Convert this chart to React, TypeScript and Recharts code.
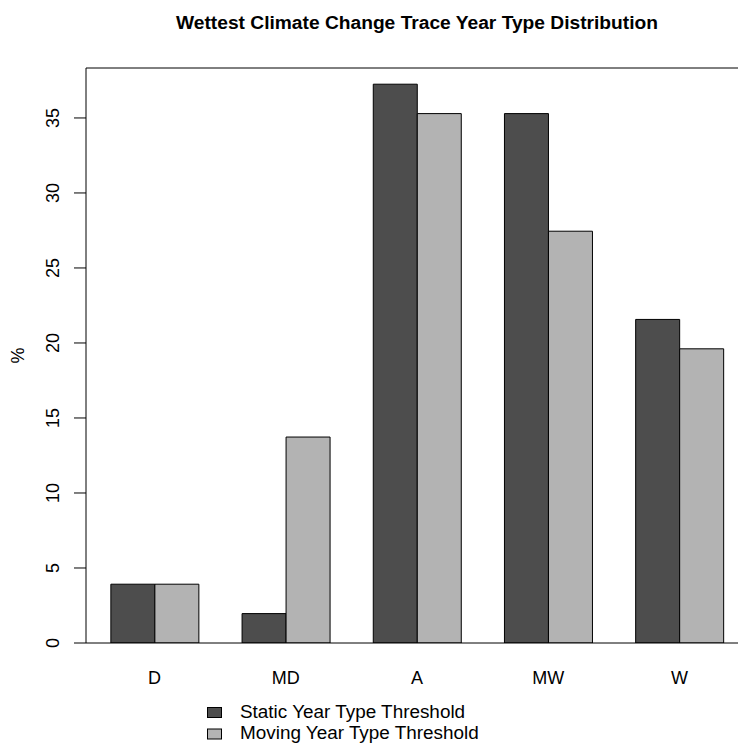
import React from "react";
import { BarChart, Bar, XAxis, YAxis, ReferenceLine } from "recharts";

const categories = ["D", "MD", "A", "MW", "W"];
const staticPct = [3.92, 1.96, 37.25, 35.29, 21.57];
const movingPct = [3.92, 13.73, 35.29, 27.45, 19.61];
const yTicks = [0, 5, 10, 15, 20, 25, 30, 35];
const seriesNames = ["Static Year Type Threshold", "Moving Year Type Threshold"];
const seriesColors = ["#4D4D4D", "#B3B3B3"];

const Y_MAX = 38.33;
const FONT = "'Liberation Sans', Arial, Helvetica, sans-serif";

const data = categories.map((cat, i) => ({
  cat,
  staticPct: staticPct[i],
  movingPct: movingPct[i],
}));

// R style rotated y tick labels
function YTick(props: any) {
  const { x, y, payload } = props;
  const tx = x - 13;
  return (
    <text
      x={tx}
      y={y}
      transform={`rotate(-90, ${tx}, ${y})`}
      textAnchor="middle"
      fontSize={18}
      fontFamily={FONT}
      fill="#000"
    >
      {payload.value}
    </text>
  );
}

function XTick(props: any) {
  const { x, y, payload } = props;
  return (
    <text x={x} y={y + 41} textAnchor="middle" fontSize={18} fontFamily={FONT} fill="#000">
      {payload.value}
    </text>
  );
}

export default function App() {
  return (
    <div
      style={{
        position: "absolute",
        left: 0,
        top: 0,
        width: 738,
        height: 746,
        overflow: "hidden",
        background: "#fff",
        fontFamily: FONT,
      }}
    >
      <BarChart
        width={760}
        height={746}
        data={data}
        margin={{ top: 68, right: 12, bottom: 73, left: 0 }}
        barCategoryGap="16.667%"
        barGap={0}
      >
        <XAxis
          dataKey="cat"
          height={30}
          padding={{ left: 3, right: 3 }}
          tickLine={false}
          tickSize={0}
          tickMargin={0}
          axisLine={{ stroke: "#000", strokeWidth: 1 }}
          tick={<XTick />}
          interval={0}
        />
        <YAxis
          width={86}
          domain={[0, Y_MAX]}
          ticks={yTicks}
          allowDataOverflow
          tickSize={12}
          tickMargin={2}
          tickLine={{ stroke: "#000" }}
          axisLine={{ stroke: "#000", strokeWidth: 1 }}
          tick={<YTick />}
          label={{
            content: (p: any) => {
              const vb = p.viewBox || {};
              const cy = (vb.y ?? 68) + (vb.height ?? 575) / 2;
              return (
                <text
                  x={24}
                  y={cy}
                  transform={`rotate(-90, 24, ${cy})`}
                  textAnchor="middle"
                  fontSize={18}
                  fontFamily={FONT}
                  fill="#000"
                >
                  %
                </text>
              );
            },
          }}
        />
        <ReferenceLine y={Y_MAX} stroke="#000" strokeWidth={1} ifOverflow="visible" />
        <Bar
          dataKey="staticPct"
          name={seriesNames[0]}
          fill={seriesColors[0]}
          stroke="#000"
          strokeWidth={1}
          isAnimationActive={false}
        />
        <Bar
          dataKey="movingPct"
          name={seriesNames[1]}
          fill={seriesColors[1]}
          stroke="#000"
          strokeWidth={1}
          isAnimationActive={false}
        />
      </BarChart>

      {/* title and legend drawn on top, like R's title() and legend() */}
      <svg
        width={738}
        height={746}
        style={{ position: "absolute", left: 0, top: 0, pointerEvents: "none" }}
      >
        <text
          x={417}
          y={29}
          textAnchor="middle"
          fontSize={19.2}
          fontWeight="bold"
          fontFamily={FONT}
          fill="#000"
        >
          Wettest Climate Change Trace Year Type Distribution
        </text>
        {seriesNames.map((name, i) => (
          <g key={name}>
            <rect
              x={207.5}
              y={707.5 + i * 21.5}
              width={14}
              height={10}
              fill={seriesColors[i]}
              stroke="#000"
              strokeWidth={1}
            />
            <text x={240} y={717.5 + i * 21.5} fontSize={18.9} fontFamily={FONT} fill="#000">
              {name}
            </text>
          </g>
        ))}
      </svg>
    </div>
  );
}
